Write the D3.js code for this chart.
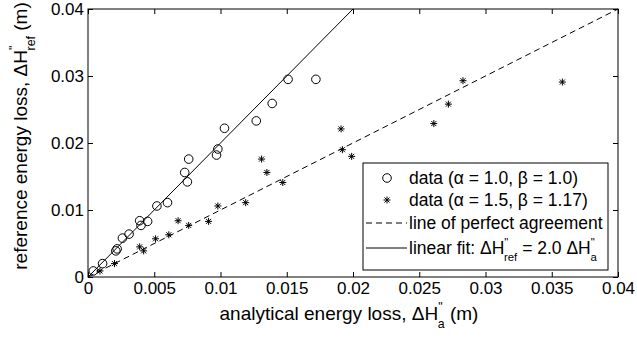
<!DOCTYPE html>
<html>
<head>
<meta charset="utf-8">
<script src="https://cdn.jsdelivr.net/npm/d3@7"></script>
<style>
  body { margin: 0; background: #fff; }
  text { font-family: "Liberation Sans", Arial, sans-serif; fill: #000; }
</style>
</head>
<body>
<script>
// data
const circleX = [0.0004, 0.0011, 0.0022, 0.0021, 0.0026, 0.0031, 0.0039, 0.0040, 0.0045, 0.0052,
  0.0060, 0.0073, 0.0075, 0.0076, 0.0097, 0.0098, 0.0103, 0.0127, 0.0139, 0.0151, 0.0172];
const circleY = [0.0009, 0.0020, 0.0042, 0.0039, 0.0058, 0.0064, 0.0084, 0.0077, 0.0083, 0.0106,
  0.0111, 0.0156, 0.0142, 0.0176, 0.0182, 0.0191, 0.0222, 0.0233, 0.0259, 0.0295, 0.0295];
const starX = [0.0009, 0.0020, 0.0039, 0.0042, 0.0051, 0.0061, 0.0068, 0.0076, 0.0091, 0.0098,
  0.0119, 0.0131, 0.0135, 0.0147, 0.0191, 0.0192, 0.0199, 0.0261, 0.0272, 0.0283, 0.0358];
const starY = [0.0009, 0.0020, 0.0045, 0.0039, 0.0057, 0.0063, 0.0084, 0.0077, 0.0083, 0.0106,
  0.0111, 0.0176, 0.0156, 0.0141, 0.0221, 0.0190, 0.0180, 0.0229, 0.0258, 0.0293, 0.0291];
const fitSlope = 2.0;
const xTicks = [0, 0.005, 0.01, 0.015, 0.02, 0.025, 0.03, 0.035, 0.04];
const yTicks = [0, 0.01, 0.02, 0.03, 0.04];

const W = 637, H = 340;
const m = {left: 88, right: 19, top: 9, bottom: 63};
const iw = W - m.left - m.right, ih = H - m.top - m.bottom;

const svg = d3.select(document.body).append('svg')
  .attr('width', W).attr('height', H);
const g = svg.append('g').attr('transform', `translate(${m.left},${m.top})`);

const x = d3.scaleLinear().domain([0, 0.04]).range([0, iw]);
const y = d3.scaleLinear().domain([0, 0.04]).range([ih, 0]);

// axes, ticks pointing inward like matlab
const fmt = d => String(d);
const xa = g.append('g').attr('transform', `translate(0,${ih})`)
  .call(d3.axisBottom(x).tickValues(xTicks).tickFormat(fmt).tickSizeInner(-5).tickSizeOuter(0).tickPadding(5));
const xt = g.append('g')
  .call(d3.axisTop(x).tickValues(xTicks).tickSizeInner(-5).tickSizeOuter(0));
const ya = g.append('g')
  .call(d3.axisLeft(y).tickValues(yTicks).tickFormat(fmt).tickSizeInner(-5).tickSizeOuter(0).tickPadding(4));
const yr = g.append('g').attr('transform', `translate(${iw},0)`)
  .call(d3.axisRight(y).tickValues(yTicks).tickSizeInner(-5).tickSizeOuter(0));
[xt, yr].forEach(a => a.selectAll('text').remove());
[xa, xt, ya, yr].forEach(a => {
  a.select('.domain').remove();
  a.selectAll('text').attr('font-size', 17).attr('font-family', null);
});

g.append('rect').attr('width', iw).attr('height', ih)
  .attr('fill', 'none').attr('stroke', '#000');

// line of perfect agreement
const line = d3.line().x(d => x(d[0])).y(d => y(d[1]));
g.append('path').attr('d', line([[0, 0], [0.04, 0.04]]))
  .attr('fill', 'none').attr('stroke', '#000').attr('stroke-dasharray', '6,4');

// linear fit
g.append('path').attr('d', line([[0, 0], [0.04 / fitSlope, 0.04]]))
  .attr('fill', 'none').attr('stroke', '#000');

const starPath = (cx, cy) => {
  const a = 3.5, b = 2.5;
  return `M${cx - a},${cy}H${cx + a}M${cx},${cy - a}V${cy + a}` +
    `M${cx - b},${cy - b}L${cx + b},${cy + b}M${cx - b},${cy + b}L${cx + b},${cy - b}`;
};

g.selectAll('.circ').data(circleX).enter().append('circle')
  .attr('class', 'circ')
  .attr('cx', d => x(d)).attr('cy', (d, i) => y(circleY[i]))
  .attr('r', 4.3).attr('fill', 'none').attr('stroke', '#000');

g.selectAll('.star').data(starX).enter().append('path')
  .attr('class', 'star')
  .attr('d', (d, i) => starPath(x(d), y(starY[i])))
  .attr('fill', 'none').attr('stroke', '#000');

// ΔH'' with a subscript; the text after it goes back to the baseline
function deltaH(t, sub, fs, after) {
  t.append('tspan').text('ΔH');
  t.append('tspan').attr('font-size', fs * 0.65).attr('dy', -fs * 0.45).text('"');
  t.append('tspan').attr('font-size', fs * 0.65).attr('dx', -fs * 0.25).attr('dy', fs * 0.85).text(sub);
  t.append('tspan').attr('font-size', fs).attr('dy', -fs * 0.4).text(after);
}

// axis titles
const xl = svg.append('text').attr('x', m.left + iw / 2 - 4).attr('y', 320)
  .attr('text-anchor', 'middle').attr('font-size', 19);
xl.append('tspan').text('analytical energy loss, ');
deltaH(xl, 'a', 19, ' (m)');

const yl = svg.append('text')
  .attr('transform', `translate(27,${m.top + ih / 2 - 7}) rotate(-90)`)
  .attr('text-anchor', 'middle').attr('font-size', 19);
yl.append('tspan').text('reference energy loss, ');
deltaH(yl, 'ref', 19, ' (m)');

// legend
const lg = svg.append('g').attr('transform', 'translate(363,163)');
lg.append('rect').attr('width', 245).attr('height', 107)
  .attr('fill', '#fff').attr('stroke', '#000');
const rows = [15, 37, 60, 85];
lg.append('circle').attr('cx', 24).attr('cy', rows[0]).attr('r', 4.3)
  .attr('fill', 'none').attr('stroke', '#000');
lg.append('path').attr('d', starPath(24, rows[1])).attr('stroke', '#000');
lg.append('line').attr('x1', 3).attr('x2', 44).attr('y1', rows[2]).attr('y2', rows[2])
  .attr('stroke', '#000').attr('stroke-dasharray', '6,4');
lg.append('line').attr('x1', 3).attr('x2', 44).attr('y1', rows[3]).attr('y2', rows[3])
  .attr('stroke', '#000');

const lt = (i) => lg.append('text').attr('x', 46).attr('y', rows[i]).attr('dy', '0.35em')
  .attr('font-size', 17.5);
lt(0).text('data (α = 1.0, β = 1.0)');
lt(1).text('data (α = 1.5, β = 1.17)');
lt(2).text('line of perfect agreement');
const l4 = lt(3);
l4.append('tspan').text('linear fit: ');
deltaH(l4, 'ref', 17.5, ' = 2.0 ');
deltaH(l4, 'a', 17.5, '');
</script>
</body>
</html>
